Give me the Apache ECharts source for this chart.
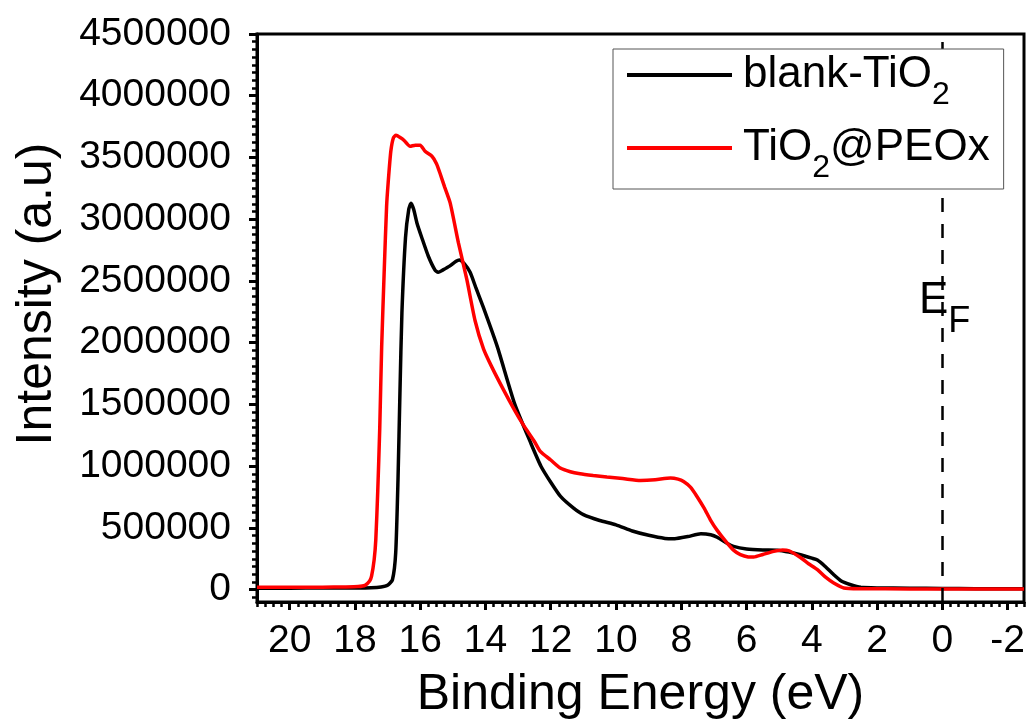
<!DOCTYPE html>
<html>
<head>
<meta charset="utf-8">
<script src="https://cdn.jsdelivr.net/npm/echarts@6/dist/echarts.min.js"></script>
<style>
html,body{margin:0;padding:0;background:#fff}
#main{width:1032px;height:724px}
</style>
</head>
<body>
<div id="main"></div>
<script>
// [binding energy (eV), intensity]
var blankTiO2 = [
  [21, 12000], [20, 12000], [19, 13000], [18, 14000], [17.5, 16000], [17.2, 22000],
  [17.0, 35000], [16.85, 80000], [16.75, 300000], [16.68, 890000], [16.62, 1600000],
  [16.56, 2240000], [16.45, 2850000], [16.35, 3080000], [16.28, 3130000], [16.2, 3080000],
  [16.1, 2970000], [15.95, 2850000], [15.75, 2700000], [15.55, 2590000], [15.45, 2570000],
  [15.3, 2590000], [15.1, 2620000], [14.9, 2660000], [14.8, 2670000], [14.65, 2640000],
  [14.47, 2570000], [14.3, 2450000], [14.07, 2290000], [13.64, 1970000], [13.1, 1500000],
  [12.6, 1180000], [12.3, 1000000], [12.0, 870000], [11.7, 755000], [11.3, 660000],
  [11.0, 607000], [10.5, 560000], [10.0, 525000], [9.5, 475000], [9.0, 440000],
  [8.5, 415000], [8.2, 413000], [7.8, 430000], [7.4, 453000], [7.1, 445000],
  [6.9, 425000], [6.6, 375000], [6.4, 350000], [6.0, 330000], [5.5, 322000],
  [5.06, 320000], [4.7, 305000], [4.35, 283000], [4.0, 255000], [3.83, 240000],
  [3.6, 190000], [3.33, 121000], [3.1, 70000], [2.81, 40000], [2.5, 19000],
  [2.0, 14000], [1.0, 12000], [0, 10000], [-1, 8000], [-2.5, 8000]
];
var tio2Peox = [
  [21, 20000], [20, 20000], [19, 20000], [18.3, 22000], [17.9, 25000], [17.69, 35000],
  [17.55, 70000], [17.49, 110000], [17.41, 243000], [17.36, 405000], [17.3, 800000],
  [17.24, 1300000], [17.18, 1970000], [17.1, 2600000], [17.03, 3100000], [16.98, 3300000],
  [16.9, 3550000], [16.82, 3660000], [16.74, 3680000], [16.6, 3660000], [16.5, 3640000],
  [16.31, 3590000], [16.15, 3600000], [16.0, 3600000], [15.85, 3550000], [15.64, 3510000],
  [15.5, 3450000], [15.39, 3370000], [15.25, 3260000], [15.08, 3130000], [14.83, 2810000],
  [14.57, 2510000], [14.32, 2180000], [14.06, 1950000], [13.8, 1800000], [13.45, 1620000],
  [13.1, 1450000], [12.83, 1330000], [12.5, 1200000], [12.32, 1120000], [12.0, 1050000],
  [11.71, 985000], [11.4, 955000], [11.1, 939000], [10.7, 925000], [10.28, 912000],
  [9.8, 900000], [9.25, 884000], [8.8, 890000], [8.33, 904000], [8.1, 895000],
  [7.93, 876000], [7.72, 830000], [7.52, 755000], [7.3, 660000], [7.11, 566000],
  [6.9, 480000], [6.6, 378000], [6.4, 320000], [6.19, 283000], [5.95, 265000],
  [5.78, 264000], [5.5, 285000], [5.17, 310000], [4.9, 322000], [4.7, 315000],
  [4.35, 260000], [4.1, 210000], [3.83, 162000], [3.6, 105000], [3.33, 54000],
  [3.02, 14000], [2.5, 8000], [1.0, 6000], [0, 5000], [-2.5, 5000]
];
var xTickLabels = [20, 18, 16, 14, 12, 10, 8, 6, 4, 2, 0, -2];
var yTickLabels = [0, 500000, 1000000, 1500000, 2000000, 2500000, 3000000, 3500000, 4000000, 4500000];

var FONT = "'Liberation Sans', Arial, sans-serif";

// minor ticks, 8 per major step
var xMinor = [];
for (var i = -10; i <= 84; i++) { xMinor.push(i * 0.25); }
var yMinor = [];
for (var j = -1; j <= 72; j++) { yMinor.push(j * 62500); }

var chart = echarts.init(document.getElementById('main'));

function legendText(name) {
  return name.replace('O2', 'O{sub|2}');
}

var baseX = {
  type: 'value', inverse: true, min: -2.5, max: 21,
  splitLine: { show: false }
};
var baseY = {
  type: 'value', min: -100000, max: 4500000,
  splitLine: { show: false }
};

chart.setOption({
  animation: false,
  backgroundColor: '#fff',
  grid: {
    left: 257, right: 8, top: 34, bottom: 122,
    outerBoundsMode: 'none', containLabel: false,
    show: true, borderColor: '#000', borderWidth: 3
  },
  legend: {
    orient: 'vertical', left: 613, top: 49, z: 10,
    padding: [4, 14, 5, 14],
    icon: 'rect', itemWidth: 105, itemHeight: 4, itemGap: 15,
    backgroundColor: '#fff', borderColor: '#555', borderWidth: 1,
    data: ['blank-TiO2', 'TiO2@PEOx'],
    formatter: legendText,
    textStyle: {
      fontFamily: FONT, fontSize: 44, color: '#000', padding: [0, 0, 0, 6],
      rich: {
        sub: { fontFamily: FONT, fontSize: 32, color: '#000', padding: [40, 0, 0, 0] }
      }
    }
  },
  xAxis: [
    Object.assign({}, baseX, {
      position: 'bottom',
      name: 'Binding Energy (eV)', nameLocation: 'middle', nameGap: 68,
      nameTextStyle: { fontFamily: FONT, fontSize: 50, color: '#000' },
      axisLine: { show: true, onZero: false, lineStyle: { color: '#000', width: 3 } },
      axisTick: { show: true, customValues: xTickLabels, length: 8, lineStyle: { color: '#000', width: 3 } },
      axisLabel: { show: true, customValues: xTickLabels, margin: 20, fontFamily: FONT, fontSize: 39, color: '#000' }
    }),
    Object.assign({}, baseX, {
      position: 'bottom',
      axisLine: { show: false, onZero: false },
      axisTick: { show: true, customValues: xMinor, length: 5, lineStyle: { color: '#000', width: 2.5 } },
      axisLabel: { show: false }
    })
  ],
  yAxis: [
    Object.assign({}, baseY, {
      position: 'left',
      name: 'Intensity (a.u)', nameLocation: 'middle', nameGap: 195,
      nameTextStyle: { fontFamily: FONT, fontSize: 50, color: '#000', padding: [0, 0, 0, 48] },
      axisLine: { show: true, onZero: false, lineStyle: { color: '#000', width: 3 } },
      axisTick: { show: true, customValues: yTickLabels, length: 8, lineStyle: { color: '#000', width: 3 } },
      axisLabel: {
        show: true, customValues: yTickLabels, margin: 26, fontFamily: FONT, fontSize: 39, color: '#000',
        formatter: function (v) { return String(v); }
      }
    }),
    Object.assign({}, baseY, {
      position: 'left',
      axisLine: { show: false, onZero: false },
      axisTick: { show: true, customValues: yMinor, length: 5, lineStyle: { color: '#000', width: 2.5 } },
      axisLabel: { show: false }
    })
  ],
  series: [
    {
      name: 'blank-TiO2', type: 'line', data: blankTiO2,
      symbol: 'none', smooth: 0.2,
      lineStyle: { color: '#000', width: 3.5 }, itemStyle: { color: '#000' },
      markLine: {
        silent: true, symbol: ['none', 'none'], label: { show: false },
        lineStyle: { color: '#000', width: 2.5, type: [14, 12] },
        data: [{ xAxis: 0 }]
      },
      markPoint: {
        silent: true,
        data: [{
          coord: [0.72, 2340000], symbol: 'circle', symbolSize: 0,
          itemStyle: { color: 'transparent' },
          label: {
            show: true, position: [0, 0], align: 'left', verticalAlign: 'middle',
            formatter: 'E{sub|F}',
            fontFamily: FONT, fontSize: 44, color: '#000',
            rich: { sub: { fontFamily: FONT, fontSize: 36, color: '#000', padding: [42, 0, 0, 0] } }
          }
        }]
      }
    },
    {
      name: 'TiO2@PEOx', type: 'line', data: tio2Peox,
      symbol: 'none', smooth: 0.2,
      lineStyle: { color: '#ff0000', width: 3.5 }, itemStyle: { color: '#ff0000' }
    }
  ]
});
</script>
</body>
</html>
